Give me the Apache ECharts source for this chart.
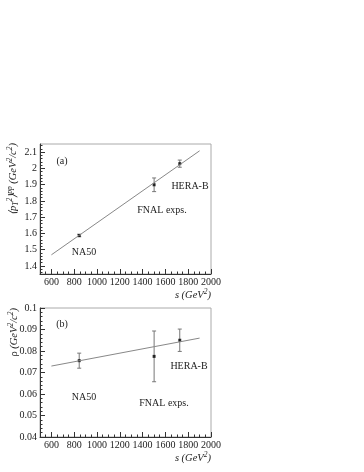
<!DOCTYPE html>
<html><head><meta charset="utf-8">
<script src="https://cdn.jsdelivr.net/npm/echarts@6/dist/echarts.min.js"></script>
<style>html,body{margin:0;padding:0;background:#fff}#c{width:364px;height:472px}</style>
</head><body><div id="c"></div>
<script>
// ---- data ----
const sVals = [844, 1501, 1726];
const expNames = ['NA50', 'FNAL exps.', 'HERA-B'];
const pt2Vals = [1.587, 1.899, 2.029];
const pt2Errs = [0.008, 0.042, 0.022];
const rhoVals = [0.0755, 0.0775, 0.0850];
const rhoErrs = [0.0035, 0.0118, 0.0052];
const fitS = [600, 1900];
const pt2Fit = [1.468, 2.108];
const rhoFit = [0.0730, 0.0860];
const xTicks = [600, 800, 1000, 1200, 1400, 1600, 1800, 2000];
const pt2Ticks = [1.4, 1.5, 1.6, 1.7, 1.8, 1.9, 2, 2.1];
const rhoTicks = [0.04, 0.05, 0.06, 0.07, 0.08, 0.09, 0.1];

function range(a, b, step) { const r = []; const n = Math.round((b - a) / step); for (let i = 0; i <= n; i++) r.push(+(a + i * step).toFixed(6)); return r; }
const xMinor = range(500, 2000, 50);
const pt2Minor = range(1.36, 2.14, 0.02);
const rhoMinor = range(0.04, 0.1, 0.002);

const FONT = 'Liberation Serif';
const AX = '#333';
const plain = v => String(+v.toFixed(6));

function mainX(g) {
  return { gridIndex: g, type: 'value', min: 500, max: 2000,
    axisLine: { show: true, onZero: false, lineStyle: { color: AX, width: 1 } },
    axisTick: { show: true, inside: true, length: 5, customValues: xTicks, lineStyle: { color: AX } },
    axisLabel: { customValues: xTicks, formatter: plain, fontFamily: FONT, fontSize: 10, color: '#222', margin: 3 },
    splitLine: { show: false } };
}
function minorX(g) {
  return { gridIndex: g, type: 'value', min: 500, max: 2000, position: 'bottom',
    axisLine: { show: false }, axisTick: { show: true, inside: true, length: 2.5, customValues: xMinor, lineStyle: { color: AX } },
    axisLabel: { show: false }, splitLine: { show: false } };
}
function mainY(g, min, max, ticks) {
  return { gridIndex: g, type: 'value', min: min, max: max,
    axisLine: { show: true, onZero: false, lineStyle: { color: AX, width: 1 } },
    axisTick: { show: true, inside: true, length: 5, customValues: ticks, lineStyle: { color: AX } },
    axisLabel: { customValues: ticks, formatter: plain, fontFamily: FONT, fontSize: 10, color: '#222', margin: 3 },
    splitLine: { show: false } };
}
function minorY(g, min, max, ticks) {
  return { gridIndex: g, type: 'value', min: min, max: max, position: 'left',
    axisLine: { show: false }, axisTick: { show: true, inside: true, length: 2.5, customValues: ticks, lineStyle: { color: AX } },
    axisLabel: { show: false }, splitLine: { show: false } };
}

function errRender(params, api) {
  const x = api.value(0), y = api.value(1), e = api.value(2);
  const p = api.coord([x, y + e]), q = api.coord([x, y - e]);
  const c = 2;
  const st = { stroke: '#777', lineWidth: 1 };
  return { type: 'group', children: [
    { type: 'line', shape: { x1: p[0], y1: p[1], x2: q[0], y2: q[1] }, style: st },
    { type: 'line', shape: { x1: p[0] - c, y1: p[1], x2: p[0] + c, y2: p[1] }, style: st },
    { type: 'line', shape: { x1: q[0] - c, y1: q[1], x2: q[0] + c, y2: q[1] }, style: st }
  ] };
}

const rich = {
  i: { fontFamily: FONT, fontStyle: 'italic', fontSize: 10.5, lineHeight: 14, verticalAlign: 'middle', fill: '#222' },
  r: { fontFamily: FONT, fontSize: 10.5, lineHeight: 14, verticalAlign: 'middle', fill: '#222' },
  sup: { fontFamily: FONT, fontStyle: 'italic', fontSize: 7.5, lineHeight: 8, verticalAlign: 'top', fill: '#222' },
  sub: { fontFamily: FONT, fontStyle: 'italic', fontSize: 7.5, lineHeight: 8, verticalAlign: 'bottom', fill: '#222' }
};

function txt(x, y, s, align) {
  return { type: 'text', x: x, y: y, style: { text: s, fontFamily: FONT, fontSize: 10, fill: '#222', align: align || 'center', verticalAlign: 'middle' } };
}

const chart = echarts.init(document.getElementById('c'), null, { renderer: 'canvas' });
chart.setOption({
  animation: false,
  backgroundColor: '#fff',
  grid: [
    { left: 40, top: 144, width: 171, height: 130, show: true, borderColor: '#aaa', borderWidth: 1, backgroundColor: 'transparent' },
    { left: 40, top: 308, width: 171, height: 129, show: true, borderColor: '#aaa', borderWidth: 1, backgroundColor: 'transparent' }
  ],
  xAxis: [mainX(0), minorX(0), mainX(1), minorX(1)],
  yAxis: [mainY(0, 1.35, 2.15, pt2Ticks), minorY(0, 1.35, 2.15, pt2Minor), mainY(1, 0.04, 0.1, rhoTicks), minorY(1, 0.04, 0.1, rhoMinor)],
  series: [
    { type: 'line', xAxisIndex: 0, yAxisIndex: 0, data: fitS.map((s, i) => [s, pt2Fit[i]]), symbol: 'none', lineStyle: { color: '#888', width: 1 } },
    { type: 'custom', xAxisIndex: 0, yAxisIndex: 0, renderItem: errRender, data: sVals.map((s, i) => [s, pt2Vals[i], pt2Errs[i]]) },
    { type: 'scatter', xAxisIndex: 0, yAxisIndex: 0, data: sVals.map((s, i) => [s, pt2Vals[i]]), symbol: 'rect', symbolSize: 3, itemStyle: { color: '#000' } },
    { type: 'line', xAxisIndex: 2, yAxisIndex: 2, data: fitS.map((s, i) => [s, rhoFit[i]]), symbol: 'none', lineStyle: { color: '#888', width: 1 } },
    { type: 'custom', xAxisIndex: 2, yAxisIndex: 2, renderItem: errRender, data: sVals.map((s, i) => [s, rhoVals[i], rhoErrs[i]]) },
    { type: 'scatter', xAxisIndex: 2, yAxisIndex: 2, data: sVals.map((s, i) => [s, rhoVals[i]]), symbol: 'rect', symbolSize: 3, itemStyle: { color: '#000' } }
  ],
  graphic: [
    txt(62, 161, '(a)'),
    txt(190, 186, expNames[2]),
    txt(162, 210, expNames[1]),
    txt(84, 252, expNames[0]),
    txt(62, 324, '(b)'),
    txt(189, 366, expNames[2]),
    txt(84, 397, expNames[0]),
    txt(164, 403, expNames[1]),
    { type: 'text', x: 211, y: 295, style: { text: '{i|s (GeV}{sup|2}{i|)}', rich: rich, align: 'right', verticalAlign: 'middle' } },
    { type: 'text', x: 211, y: 458, style: { text: '{i|s (GeV}{sup|2}{i|)}', rich: rich, align: 'right', verticalAlign: 'middle' } },
    { type: 'text', x: 13, y: 143, rotation: Math.PI / 2, style: { text: '{i|⟨p}{sub|T}{sup|2}{i|⟩}{sup|pp}{i| (GeV}{sup|2}{i|/c}{sup|2}{i|)}', rich: rich, align: 'right', verticalAlign: 'middle' } },
    { type: 'text', x: 14, y: 308, rotation: Math.PI / 2, style: { text: '{r|ρ}{i| (GeV}{sup|2}{i|/c}{sup|2}{i|)}', rich: rich, align: 'right', verticalAlign: 'middle' } }
  ]
});
</script></body></html>
